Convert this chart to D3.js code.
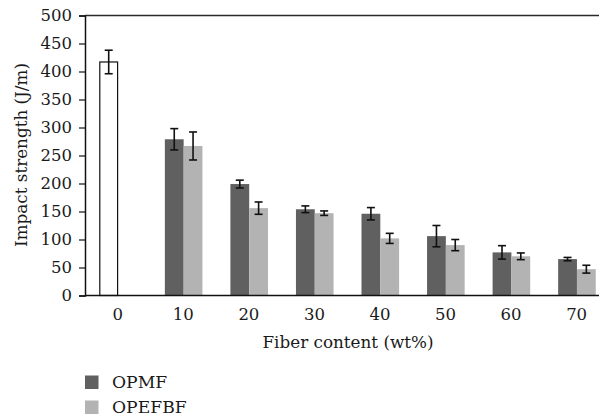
<!DOCTYPE html>
<html>
<head>
<meta charset="utf-8">
<script src="https://cdn.jsdelivr.net/npm/d3@7"></script>
<style>
  html, body { margin: 0; padding: 0; background: #fff; }
  svg { display: block; }
  text { font-family: "DejaVu Serif", serif; fill: #1a1a1a; }
</style>
</head>
<body>
<svg id="chart" width="599" height="417"></svg>
<script>
// ---- data ----
const categories = ["0", "10", "20", "30", "40", "50", "60", "70"];
const seriesNames = ["OPMF", "OPEFBF"];
const opmfValues   = [417, 279, 199, 154, 146, 106, 77, 65];
const opmfErrors   = [21, 19, 7, 6, 11, 19, 12, 3];
const opefbfValues = [null, 267, 156, 147, 102, 90, 70, 47];
const opefbfErrors = [null, 25, 11, 4, 9, 10, 6, 7];
const yTicks = [0, 50, 100, 150, 200, 250, 300, 350, 400, 450, 500];
const xTitle = "Fiber content (wt%)";
const yTitle = "Impact strength (J/m)";

const colors = { OPMF: "#5f605f", OPEFBF: "#b3b3b3" };

const svg = d3.select("#chart");
const mLeft = 85, mTop = 15.5, mBottom = 295.5, bandEnd = 609.4, plotRight = 599;

const x = d3.scaleBand().domain(categories).range([mLeft, bandEnd]).paddingInner(0).paddingOuter(0);
const xs = d3.scaleBand().domain(seriesNames).range([14.3, 51.9]).padding(0);
const y = d3.scaleLinear().domain([0, 500]).range([mBottom, mTop]);

const rows = [];
categories.forEach((c, i) => {
  rows.push({ cat: c, series: "OPMF", v: opmfValues[i], e: opmfErrors[i], neat: c === "0" });
  if (opefbfValues[i] != null) rows.push({ cat: c, series: "OPEFBF", v: opefbfValues[i], e: opefbfErrors[i], neat: false });
});

// top border line
svg.append("line")
  .attr("x1", mLeft).attr("x2", plotRight)
  .attr("y1", y(500)).attr("y2", y(500))
  .attr("stroke", "#2a2a2a").attr("stroke-width", 1.5);

// bars
svg.append("g").selectAll("rect").data(rows).join("rect")
  .attr("x", d => x(d.cat) + xs(d.series) + (d.neat ? 0.5 : 0))
  .attr("y", d => y(d.v))
  .attr("width", d => xs.bandwidth() - (d.neat ? 1 : 0))
  .attr("height", d => y(0) - y(d.v))
  .attr("fill", d => d.neat ? "#ffffff" : colors[d.series])
  .attr("stroke", d => d.neat ? "#111" : "none")
  .attr("stroke-width", d => d.neat ? 1.2 : 0);

// error bars
const eg = svg.append("g").attr("stroke", "#111").attr("stroke-width", 1.6);
rows.forEach(d => {
  const cx = x(d.cat) + xs(d.series) + xs.bandwidth() / 2;
  const y1 = y(d.v + d.e), y2 = y(d.v - d.e);
  eg.append("line").attr("x1", cx).attr("x2", cx).attr("y1", y1).attr("y2", y2);
  eg.append("line").attr("x1", cx - 4).attr("x2", cx + 4).attr("y1", y1).attr("y2", y1);
  eg.append("line").attr("x1", cx - 4).attr("x2", cx + 4).attr("y1", y2).attr("y2", y2);
});

// y axis
const yAxis = svg.append("g").attr("transform", `translate(${mLeft},0)`)
  .call(d3.axisLeft(y).tickValues(yTicks).tickSize(6).tickPadding(7).tickFormat(d3.format("d")));
yAxis.select(".domain").attr("stroke", "#111").attr("stroke-width", 1.5);
yAxis.selectAll(".tick line").attr("stroke", "#111").attr("stroke-width", 1.2);
yAxis.selectAll(".tick text").attr("font-family", "DejaVu Serif").attr("font-size", 16.5).attr("fill", "#1a1a1a");

// x axis
const xAxis = svg.append("g").attr("transform", `translate(0,${mBottom})`)
  .call(d3.axisBottom(x).tickSize(0).tickPadding(13));
xAxis.select(".domain").attr("stroke", "#111").attr("stroke-width", 1.5)
  .attr("d", `M${mLeft},0H${plotRight}`);
xAxis.selectAll(".tick text").attr("font-family", "DejaVu Serif").attr("font-size", 16.5).attr("fill", "#1a1a1a");

// axis titles
svg.append("text")
  .attr("x", 348).attr("y", 348)
  .attr("text-anchor", "middle").attr("font-size", 16.8)
  .text(xTitle);
svg.append("text")
  .attr("transform", "translate(27,155) rotate(-90)")
  .attr("text-anchor", "middle").attr("font-size", 16.8)
  .text(yTitle);

// legend
const lg = svg.append("g");
seriesNames.forEach((s, i) => {
  const yy = 375.5 + i * 25;
  lg.append("rect").attr("x", 85).attr("y", yy).attr("width", 13.5).attr("height", 13.5).attr("fill", colors[s]);
  lg.append("text").attr("x", 112).attr("y", yy + 12.5).attr("font-size", 17.2).text(s);
});
</script>
</body>
</html>
